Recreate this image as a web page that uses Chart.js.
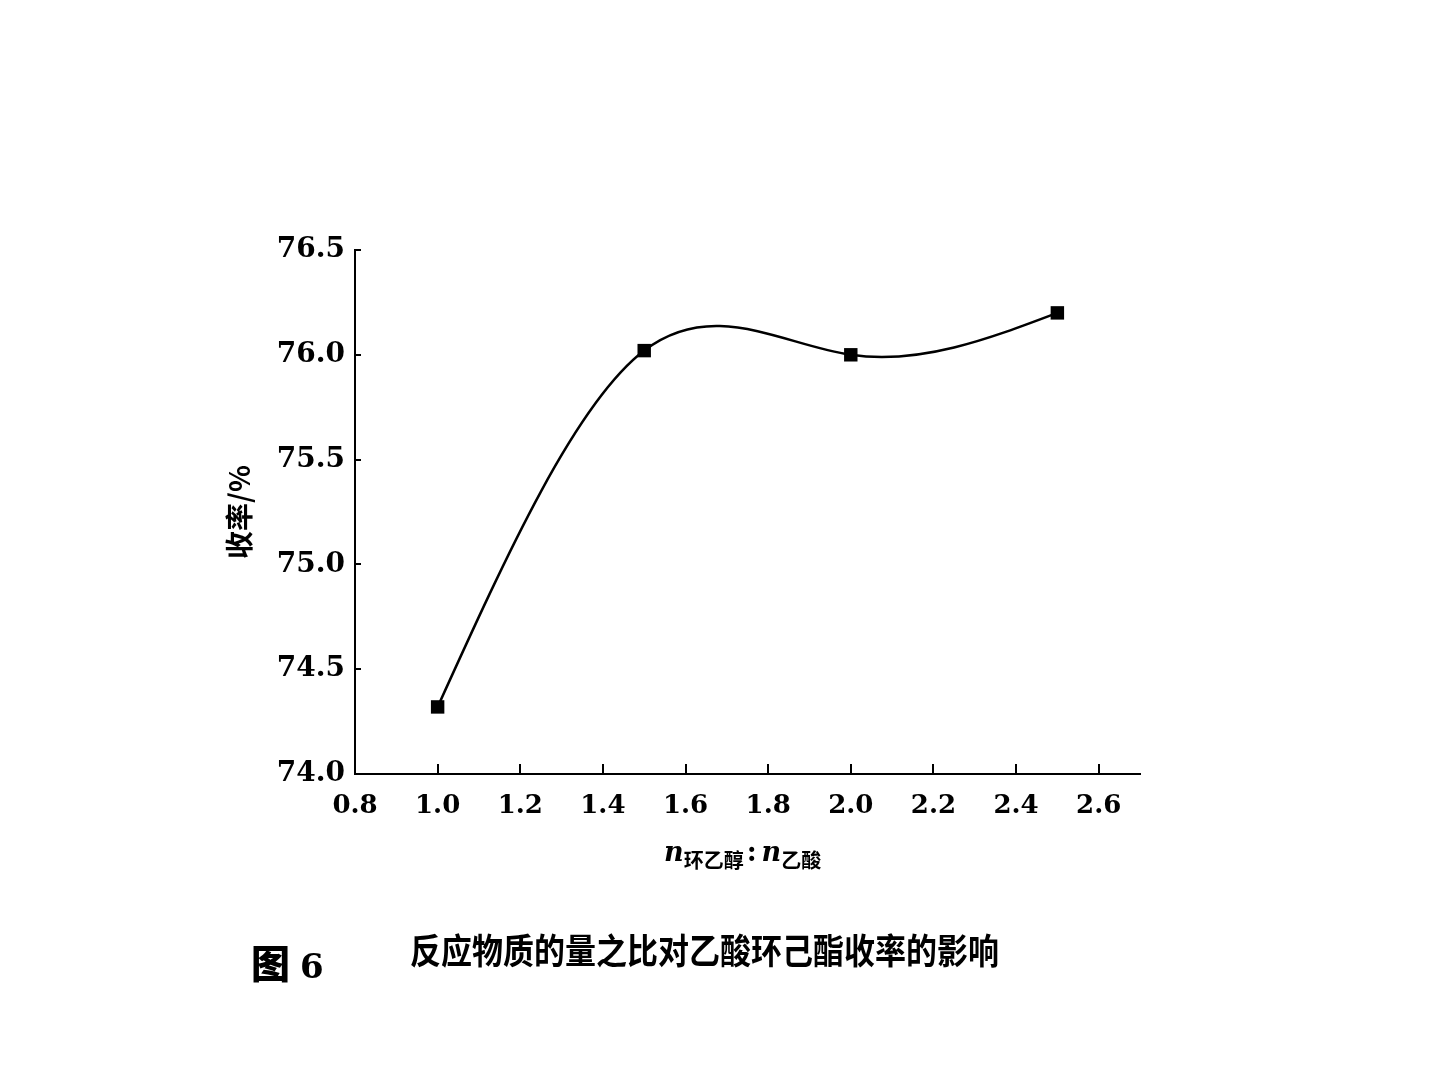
<!DOCTYPE html>
<html lang="zh">
<head>
<meta charset="utf-8">
<title>图 6 反应物质的量之比对乙酸环己酯收率的影响</title>
<script src="https://cdn.jsdelivr.net/npm/chart.js@4/dist/chart.umd.min.js"></script>
<style>
  html, body { margin: 0; padding: 0; background: #fff; }
  #wrap { position: relative; width: 1440px; height: 1080px; }
  #wrap canvas { position: absolute; left: 0; top: 0; }
  .xtitle {
    position: absolute; left: 664px; top: 836px;
    font-family: 'DejaVu Serif', serif; font-style: italic; font-weight: bold;
    font-size: 27px; color: #000; white-space: nowrap;
  }
  .xtitle sub {
    font-family: 'Noto Sans CJK SC', sans-serif; font-style: normal; font-weight: 700;
    font-size: 20px; vertical-align: -7px;
  }
  .xtitle .colon { font-style: normal; margin: 0 5px 0 3px; }
  .fig-no {
    position: absolute; left: 251px; top: 942px;
    font-family: 'Noto Sans CJK SC', sans-serif; font-weight: 900; font-size: 39px;
    line-height: 1; color: #000;
  }
  .fig-no span { font-family: 'DejaVu Serif', serif; font-weight: bold; font-size: 34px; margin-left: 10px; }
  .caption {
    position: absolute; left: 410px; top: 931px;
    font-family: 'Noto Sans CJK SC', sans-serif; font-weight: 700; font-size: 31px;
    line-height: 1; color: #000; white-space: nowrap;
    transform: scaleY(1.15); transform-origin: left top;
  }
</style>
</head>
<body>
<div id="wrap">
  <canvas id="yieldChart"></canvas>
  <div class="xtitle">n<sub>环乙醇</sub><span class="colon">:</span>n<sub>乙酸</sub></div>
  <div class="fig-no">图<span>6</span></div>
  <div class="caption">反应物质的量之比对乙酸环己酯收率的影响</div>
</div>
<script>
// molar ratio n(cyclohexanol) : n(acetic acid)
const ratios = [1.0, 1.5, 2.0, 2.5];
// yield, %
const yields = [74.32, 76.02, 76.0, 76.2];

const xTicks = [0.8, 1.0, 1.2, 1.4, 1.6, 1.8, 2.0, 2.2, 2.4, 2.6];
const yTicks = [74.0, 74.5, 75.0, 75.5, 76.0, 76.5];

// the original curve is a natural cubic spline, chart.js only has its own
// cardinal spline, so swap in natural-spline control points before drawing
const naturalSpline = {
  id: 'naturalSpline',
  beforeDatasetDraw(chart, args) {
    const meta = args.meta;
    const line = meta.dataset;
    if (!line || !line.updateControlPoints) return;
    line.updateControlPoints(chart.chartArea, 'x');

    const pts = meta.data;
    const n = pts.length;
    if (n < 3) return;
    const xs = pts.map(p => p.x);
    const ys = pts.map(p => p.y);
    const h = [];
    for (let i = 0; i < n - 1; i++) h.push(xs[i + 1] - xs[i]);

    // solve tridiagonal system for second derivatives, M0 = Mn-1 = 0
    const M = new Array(n).fill(0);
    const a = [], b = [], c = [], d = [];
    for (let i = 1; i < n - 1; i++) {
      a.push(h[i - 1] / 6);
      b.push((h[i - 1] + h[i]) / 3);
      c.push(h[i] / 6);
      d.push((ys[i + 1] - ys[i]) / h[i] - (ys[i] - ys[i - 1]) / h[i - 1]);
    }
    const m = b.length;
    for (let i = 1; i < m; i++) {
      const w = a[i] / b[i - 1];
      b[i] -= w * c[i - 1];
      d[i] -= w * d[i - 1];
    }
    M[m] = d[m - 1] / b[m - 1];
    for (let i = m - 2; i >= 0; i--) M[i + 1] = (d[i] - c[i] * M[i + 2]) / b[i];

    for (let i = 0; i < n - 1; i++) {
      const hi = h[i];
      const slope = (ys[i + 1] - ys[i]) / hi;
      const s0 = slope - hi * (2 * M[i] + M[i + 1]) / 6;
      const s1 = slope + hi * (M[i] + 2 * M[i + 1]) / 6;
      pts[i].cp2x = xs[i] + hi / 3;
      pts[i].cp2y = ys[i] + s0 * hi / 3;
      pts[i + 1].cp1x = xs[i + 1] - hi / 3;
      pts[i + 1].cp1y = ys[i + 1] - s1 * hi / 3;
    }
    pts[0].cp1x = xs[0]; pts[0].cp1y = ys[0];
    pts[n - 1].cp2x = xs[n - 1]; pts[n - 1].cp2y = ys[n - 1];
  }
};

new Chart(document.getElementById('yieldChart'), {
  type: 'line',
  data: {
    datasets: [{
      data: ratios.map((x, i) => ({ x, y: yields[i] })),
      borderColor: '#000',
      borderWidth: 2.5,
      tension: 0.4,
      pointStyle: 'rect',
      pointRadius: 9.5,
      pointBackgroundColor: '#000',
      pointBorderColor: '#000',
      pointBorderWidth: 0,
      fill: false,
    }]
  },
  options: {
    responsive: true,
    maintainAspectRatio: false,
    animation: false,
    layout: { padding: { left: 210, top: 250, right: 300, bottom: 246 } },
    plugins: { legend: { display: false }, tooltip: { enabled: false } },
    scales: {
      x: {
        type: 'linear',
        min: 0.8,
        max: 2.7,
        afterBuildTicks: s => { s.ticks = xTicks.map(v => ({ value: v })); },
        afterFit: s => { s.height = 60; },
        border: { color: '#000', width: 2 },
        grid: { drawOnChartArea: false, drawTicks: true, tickLength: -10, color: '#000', lineWidth: 2 },
        ticks: {
          color: '#000', font: { family: 'DejaVu Serif', size: 26, weight: 'bold' },
          padding: 27, maxRotation: 0,
          callback: v => Number(v).toFixed(1),
        },
      },
      y: {
        min: 74.0,
        max: 76.5,
        afterBuildTicks: s => { s.ticks = yTicks.map(v => ({ value: v })); },
        afterFit: s => { s.width = 145; },
        border: { color: '#000', width: 2 },
        grid: { drawOnChartArea: false, drawTicks: true, tickLength: -6, color: '#000', lineWidth: 2 },
        ticks: {
          color: '#000', font: { family: 'DejaVu Serif', size: 28, weight: 'bold' },
          padding: 16,
          callback: v => Number(v).toFixed(1),
        },
        title: {
          display: true,
          text: '收率/%',
          color: '#000',
          font: { family: 'Noto Sans CJK SC', size: 28, weight: '700' },
          padding: { top: 13, bottom: 0 },
        },
      },
    },
  },
  plugins: [naturalSpline],
});
</script>
</body>
</html>
